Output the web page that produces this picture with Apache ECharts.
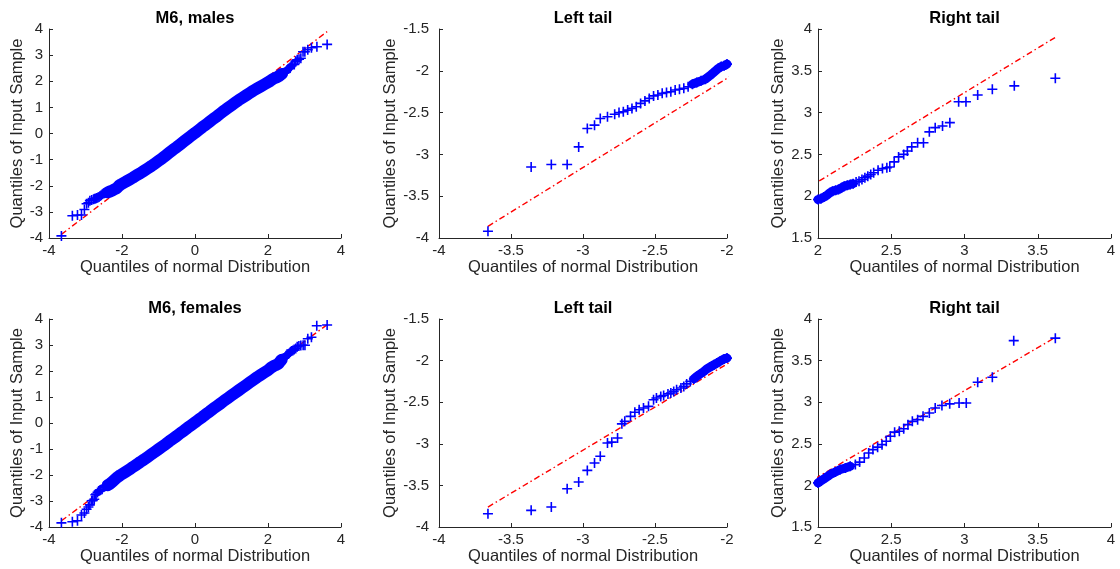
<!DOCTYPE html>
<html>
<head>
<meta charset="utf-8">
<script src="https://cdn.jsdelivr.net/npm/echarts@6/dist/echarts.min.js"></script>
<style>
  html, body { margin: 0; padding: 0; background: #ffffff; }
  #chart { width: 1120px; height: 569px; }
</style>
</head>
<body>
<div id="chart"></div>
<script>
// Normal Q-Q plots of the M6 scores, males and females, with zoomed tails.
// Each point is [theoretical normal quantile, sample quantile].

const panelTitles = ['M6, males', 'Left tail', 'Right tail', 'M6, females', 'Left tail', 'Right tail'];
const xAxisTitle = 'Quantiles of normal Distribution';
const yAxisTitle = 'Quantiles of Input Sample';

// tick values
const fullTicks = [-4, -3, -2, -1, 0, 1, 2, 3, 4];
const fullXTicks = [-4, -2, 0, 2, 4];
const leftXTicks = [-4, -3.5, -3, -2.5, -2];
const leftYTicks = [-4, -3.5, -3, -2.5, -2, -1.5];
const rightXTicks = [2, 2.5, 3, 3.5, 4];
const rightYTicks = [1.5, 2, 2.5, 3, 3.5, 4];

// males
const malesLeftTail = [
  [-3.66, -3.92], [-3.36, -3.15], [-3.22, -3.12], [-3.11, -3.12], [-3.03, -2.91],
  [-2.97, -2.69], [-2.92, -2.65], [-2.88, -2.57], [-2.83, -2.55], [-2.78, -2.52],
  [-2.75, -2.50], [-2.72, -2.49], [-2.69, -2.47], [-2.66, -2.45], [-2.63, -2.43],
  [-2.60, -2.39], [-2.57, -2.36], [-2.54, -2.33], [-2.51, -2.30], [-2.48, -2.29],
  [-2.45, -2.27], [-2.42, -2.26], [-2.39, -2.25], [-2.36, -2.23], [-2.33, -2.22],
  [-2.30, -2.21], [-2.27, -2.19], [-2.24, -2.16], [-2.21, -2.14], [-2.18, -2.12],
  [-2.15, -2.10], [-2.12, -2.06], [-2.10, -2.03], [-2.08, -2.00], [-2.06, -1.97],
  [-2.04, -1.95], [-2.02, -1.94], [-2.00, -1.92]
];
const malesCenter = [
  [-1.9, -1.85], [-1.8, -1.77], [-1.7, -1.69], [-1.6, -1.60], [-1.5, -1.52],
  [-1.4, -1.43], [-1.3, -1.34], [-1.2, -1.25], [-1.1, -1.15], [-1.0, -1.05],
  [-0.9, -0.95], [-0.8, -0.84], [-0.7, -0.73], [-0.6, -0.62], [-0.5, -0.52],
  [-0.4, -0.41], [-0.3, -0.30], [-0.2, -0.19], [-0.1, -0.08], [0.0, 0.02],
  [0.1, 0.13], [0.2, 0.24], [0.3, 0.34], [0.4, 0.45], [0.5, 0.56],
  [0.6, 0.66], [0.7, 0.77], [0.8, 0.88], [0.9, 0.98], [1.0, 1.08],
  [1.1, 1.18], [1.2, 1.28], [1.3, 1.37], [1.4, 1.46], [1.5, 1.55],
  [1.6, 1.64], [1.7, 1.72], [1.8, 1.80], [1.9, 1.88]
];
const malesRightTail = [
  [2.00, 1.96], [2.02, 1.97], [2.04, 1.99], [2.06, 2.01], [2.08, 2.04],
  [2.10, 2.06], [2.12, 2.07], [2.14, 2.08], [2.16, 2.10], [2.18, 2.12],
  [2.20, 2.13], [2.22, 2.14], [2.24, 2.15], [2.26, 2.17], [2.28, 2.18],
  [2.30, 2.20], [2.32, 2.22], [2.34, 2.24], [2.36, 2.26], [2.38, 2.28],
  [2.41, 2.31], [2.44, 2.33], [2.47, 2.34], [2.49, 2.35], [2.52, 2.41],
  [2.55, 2.47], [2.585, 2.50], [2.61, 2.54], [2.64, 2.59], [2.68, 2.64],
  [2.72, 2.64], [2.76, 2.77], [2.80, 2.82], [2.85, 2.84], [2.90, 2.88],
  [2.96, 3.13], [3.01, 3.13], [3.09, 3.21], [3.19, 3.28], [3.34, 3.32],
  [3.62, 3.41]
];
const malesRefLine = [[-3.66, -3.86], [3.62, 3.90]];

// females
const femalesLeftTail = [
  [-3.66, -3.84], [-3.36, -3.80], [-3.22, -3.76], [-3.11, -3.54], [-3.03, -3.46],
  [-2.97, -3.32], [-2.92, -3.23], [-2.88, -3.15], [-2.83, -2.99], [-2.80, -2.98],
  [-2.76, -2.93], [-2.73, -2.76], [-2.71, -2.73], [-2.67, -2.67], [-2.64, -2.62],
  [-2.61, -2.59], [-2.58, -2.57], [-2.545, -2.55], [-2.51, -2.47], [-2.49, -2.45],
  [-2.46, -2.43], [-2.44, -2.42], [-2.41, -2.40], [-2.39, -2.39], [-2.37, -2.37],
  [-2.35, -2.35], [-2.32, -2.33], [-2.30, -2.31], [-2.28, -2.28], [-2.255, -2.25],
  [-2.23, -2.22], [-2.21, -2.19], [-2.185, -2.16], [-2.16, -2.13], [-2.14, -2.10],
  [-2.12, -2.08], [-2.09, -2.05], [-2.07, -2.03], [-2.05, -2.01], [-2.02, -1.98],
  [-2.00, -1.97]
];
const femalesCenter = [
  [-1.9, -1.88], [-1.8, -1.79], [-1.7, -1.69], [-1.6, -1.60], [-1.5, -1.50],
  [-1.4, -1.41], [-1.3, -1.31], [-1.2, -1.21], [-1.1, -1.11], [-1.0, -1.01],
  [-0.9, -0.91], [-0.8, -0.81], [-0.7, -0.70], [-0.6, -0.60], [-0.5, -0.50],
  [-0.4, -0.39], [-0.3, -0.29], [-0.2, -0.18], [-0.1, -0.08], [0.0, 0.02],
  [0.1, 0.13], [0.2, 0.23], [0.3, 0.34], [0.4, 0.44], [0.5, 0.55],
  [0.6, 0.65], [0.7, 0.75], [0.8, 0.86], [0.9, 0.96], [1.0, 1.06],
  [1.1, 1.16], [1.2, 1.26], [1.3, 1.36], [1.4, 1.46], [1.5, 1.56],
  [1.6, 1.66], [1.7, 1.76], [1.8, 1.85], [1.9, 1.94]
];
const femalesRightTail = [
  [2.00, 2.03], [2.016, 2.05], [2.05, 2.09], [2.084, 2.13], [2.118, 2.16],
  [2.152, 2.19], [2.187, 2.21], [2.22, 2.23], [2.255, 2.25], [2.284, 2.28],
  [2.316, 2.33], [2.346, 2.39], [2.375, 2.43], [2.407, 2.46], [2.437, 2.49],
  [2.466, 2.53], [2.494, 2.59], [2.523, 2.64], [2.555, 2.65], [2.585, 2.68],
  [2.614, 2.73], [2.644, 2.77], [2.68, 2.79], [2.717, 2.83], [2.76, 2.87],
  [2.80, 2.93], [2.846, 2.96], [2.899, 2.98], [2.963, 2.99], [3.012, 2.99],
  [3.09, 3.24], [3.19, 3.30], [3.336, 3.74], [3.62, 3.77]
];
const femalesRefLine = [[-3.66, -3.76], [3.62, 3.78]];

// ---------------------------------------------------------------------------

const FONT = '"Liberation Sans", Arial, Helvetica, sans-serif';
const INK = '#262626';
const MARKER = '#0000ff';
const REF = '#ff0000';
// "+" marker built from two thin bars
const crossSymbol = 'path://M4.2,0H5.8V10H4.2Z M0,4.2H10V5.8H0Z';

const grids = [
  { left: 49,  top: 29,  width: 292, height: 209 },
  { left: 439, top: 29,  width: 288, height: 209 },
  { left: 818, top: 29,  width: 293, height: 209 },
  { left: 49,  top: 319, width: 292, height: 208 },
  { left: 439, top: 319, width: 288, height: 208 },
  { left: 818, top: 319, width: 293, height: 208 }
];

function valueAxis(ticks, gridIndex, name, nameGap, isY, labelMargin) {
  return {
    type: 'value',
    gridIndex: gridIndex,
    min: ticks[0],
    max: ticks[ticks.length - 1],
    interval: ticks[1] - ticks[0],
    name: name,
    nameLocation: 'middle',
    nameGap: nameGap,
    nameRotate: isY ? 90 : 0,
    nameTextStyle: { fontFamily: FONT, fontSize: 16.5, color: INK },
    axisLine: { show: true, onZero: false, lineStyle: { color: INK, width: 1 } },
    axisTick: { show: true, inside: true, length: 4, lineStyle: { color: INK, width: 1 } },
    axisLabel: { fontFamily: FONT, fontSize: 15, color: INK, margin: labelMargin,
                 showMinLabel: true, showMaxLabel: true },
    splitLine: { show: false }
  };
}

// band: how far from zero the merged body of markers reaches, and its thickness
const panels = [
  { x: fullXTicks,  y: fullTicks,   yGap: 22, yMargin: 6,  pts: malesLeftTail.concat(malesCenter, malesRightTail),       ref: malesRefLine,   bandTo: 2.4,  bandWidth: 12 },
  { x: leftXTicks,  y: leftYTicks,  yGap: 40, yMargin: 10, pts: malesLeftTail,                                           ref: malesRefLine,   bandTo: 2.25, bandWidth: 9 },
  { x: rightXTicks, y: rightYTicks, yGap: 31, yMargin: 6,  pts: malesRightTail,                                          ref: malesRefLine,   bandTo: 2.25, bandWidth: 9 },
  { x: fullXTicks,  y: fullTicks,   yGap: 22, yMargin: 6,  pts: femalesLeftTail.concat(femalesCenter, femalesRightTail), ref: femalesRefLine, bandTo: 2.4,  bandWidth: 12 },
  { x: leftXTicks,  y: leftYTicks,  yGap: 40, yMargin: 10, pts: femalesLeftTail,                                         ref: femalesRefLine, bandTo: 2.25, bandWidth: 9 },
  { x: rightXTicks, y: rightYTicks, yGap: 31, yMargin: 6,  pts: femalesRightTail,                                        ref: femalesRefLine, bandTo: 2.25, bandWidth: 9 }
];

const xAxes = [], yAxes = [], series = [], graphics = [];

panels.forEach(function (p, i) {
  xAxes.push(valueAxis(p.x, i, xAxisTitle, 20, false, 5));
  yAxes.push(valueAxis(p.y, i, yAxisTitle, p.yGap, true, p.yMargin));

  // reference line through the quartiles, underneath the markers
  series.push({
    type: 'line', xAxisIndex: i, yAxisIndex: i, z: 1,
    data: p.ref, symbol: 'none', showSymbol: false, clip: true,
    lineStyle: { color: REF, width: 1.4, type: [6, 3, 1.5, 3] },
    silent: true, animation: false
  });

  // dense part of the sample, where many markers merge into a solid band
  series.push({
    type: 'line', xAxisIndex: i, yAxisIndex: i, z: 2,
    data: p.pts.filter(function (d) { return Math.abs(d[0]) <= p.bandTo; }),
    symbol: 'none', showSymbol: false, smooth: false, clip: false,
    lineStyle: { color: MARKER, width: p.bandWidth, cap: 'round', join: 'round' },
    silent: true, animation: false
  });

  series.push({
    type: 'scatter', xAxisIndex: i, yAxisIndex: i, z: 3,
    data: p.pts, symbol: crossSymbol, symbolSize: 10,
    itemStyle: { color: MARKER, opacity: 1 },
    clip: false, silent: true, animation: false
  });

  const g = grids[i];
  graphics.push({
    type: 'text',
    x: g.left + g.width / 2,
    y: g.top - 11,
    style: {
      text: panelTitles[i],
      font: 'bold 16.5px ' + FONT,
      fill: '#000000',
      align: 'center',
      verticalAlign: 'middle'
    },
    silent: true
  });
});

const chart = echarts.init(document.getElementById('chart'), null, { renderer: 'canvas' });
chart.setOption({
  backgroundColor: '#ffffff',
  animation: false,
  grid: grids,
  xAxis: xAxes,
  yAxis: yAxes,
  series: series,
  graphic: graphics
});
</script>
</body>
</html>
